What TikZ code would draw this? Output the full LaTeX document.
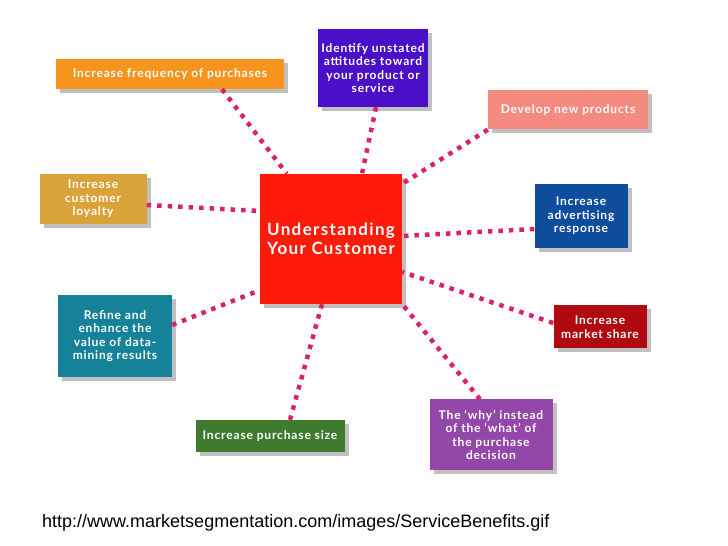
\documentclass[tikz,border=0pt]{standalone}
\usepackage{fontspec}
\setmainfont{Lato}
\newfontfamily\boxfont[LetterSpace=7]{Lato}
\newfontfamily\hubfont[LetterSpace=8]{Lato}
\newfontfamily\urlfont{Liberation Sans}
\usetikzlibrary{shadows}
\definecolor{dotc}{HTML}{D9216E}
\definecolor{cHub}{HTML}{FF1A0A}
\definecolor{cFreq}{HTML}{F7941D}
\definecolor{cIdent}{HTML}{4A10C8}
\definecolor{cDev}{HTML}{F58A7F}
\definecolor{cLoy}{HTML}{DAA33A}
\definecolor{cAdv}{HTML}{0E4C9C}
\definecolor{cRef}{HTML}{15829A}
\definecolor{cMkt}{HTML}{B0090F}
\definecolor{cGrn}{HTML}{3E7B2E}
\definecolor{cWhy}{HTML}{9347A8}
\tikzset{
  box/.style={rectangle, inner sep=0pt, text=white, align=center,
    font=\boxfont\fontsize{12}{13.5}\selectfont\bfseries,
    drop shadow={shadow xshift=4pt, shadow yshift=-4pt, opacity=0.35, fill=black!70}},
  link/.style={draw=dotc, line width=4.5pt, dash pattern=on 4.5pt off 6pt}
}
\begin{document}
\begin{tikzpicture}[x=1pt,y=1pt]
\fill[white] (0,0) rectangle (728,546);
\useasboundingbox (0,0) rectangle (728,546);
% nodes (positions in px, y flipped)
\node[box, fill=cHub, minimum width=142pt, minimum height=130pt,
  font=\hubfont\fontsize{17}{19.5}\selectfont\bfseries] (hub) at (331,307) {Understanding\\Your Customer};
\node[box, fill=cFreq, minimum width=228pt, minimum height=30pt] (freq) at (170,472) {Increase frequency of purchases};
\node[box, fill=cIdent, minimum width=110pt, minimum height=78pt] (ident) at (373,478) {Identify unstated\\attitudes toward\\your product or\\service};
\node[box, fill=cDev, minimum width=160pt, minimum height=39pt] (dev) at (568,436) {Develop new products};
\node[box, fill=cLoy, minimum width=107pt, minimum height=50pt] (loy) at (93,347) {Increase\\customer\\loyalty};
\node[box, fill=cAdv, minimum width=93pt, minimum height=64pt] (adv) at (581,330) {Increase\\advertising\\response};
\node[box, fill=cRef, minimum width=114pt, minimum height=82pt] (ref) at (115,210) {Refine and\\enhance the\\value of data-\\mining results};
\node[box, fill=cMkt, minimum width=93pt, minimum height=43pt] (mkt) at (600,219) {Increase\\market share};
\node[box, fill=cGrn, minimum width=149pt, minimum height=32pt] (grn) at (270,110) {Increase purchase size};
\node[box, fill=cWhy, minimum width=123pt, minimum height=71pt] (why) at (491,111) {The ‘why’ instead\\of the ‘what’ of\\the purchase\\decision};
% links
\draw[link] ([xshift=52pt]freq.south) -- ([xshift=27pt]hub.north west);
\draw[link] ([xshift=3pt]ident.south) -- ([xshift=31pt]hub.north);
\draw[link] (dev.south west) -- ([yshift=-10pt]hub.north east);
\draw[link] ([yshift=-6pt]loy.east) -- ([yshift=28pt]hub.west);
\draw[link] ([yshift=-13pt]adv.west) -- ([yshift=3pt]hub.east);
\draw[link] ([yshift=11pt]ref.east) -- ([yshift=14pt]hub.south west);
\draw[link] ([yshift=4pt]mkt.west) -- ([yshift=-33pt]hub.east);
\draw[link] ([xshift=-11pt]why.north) -- (hub.south east);
\draw[link] ([xshift=20pt]grn.north) -- ([xshift=-9pt]hub.south);
\node[anchor=base west, inner sep=0pt, font=\urlfont\fontsize{18}{20}\selectfont] (url) at (42,19) {http://www.marketsegmentation.com/images/ServiceBenefits.gif};
\end{tikzpicture}
\end{document}
